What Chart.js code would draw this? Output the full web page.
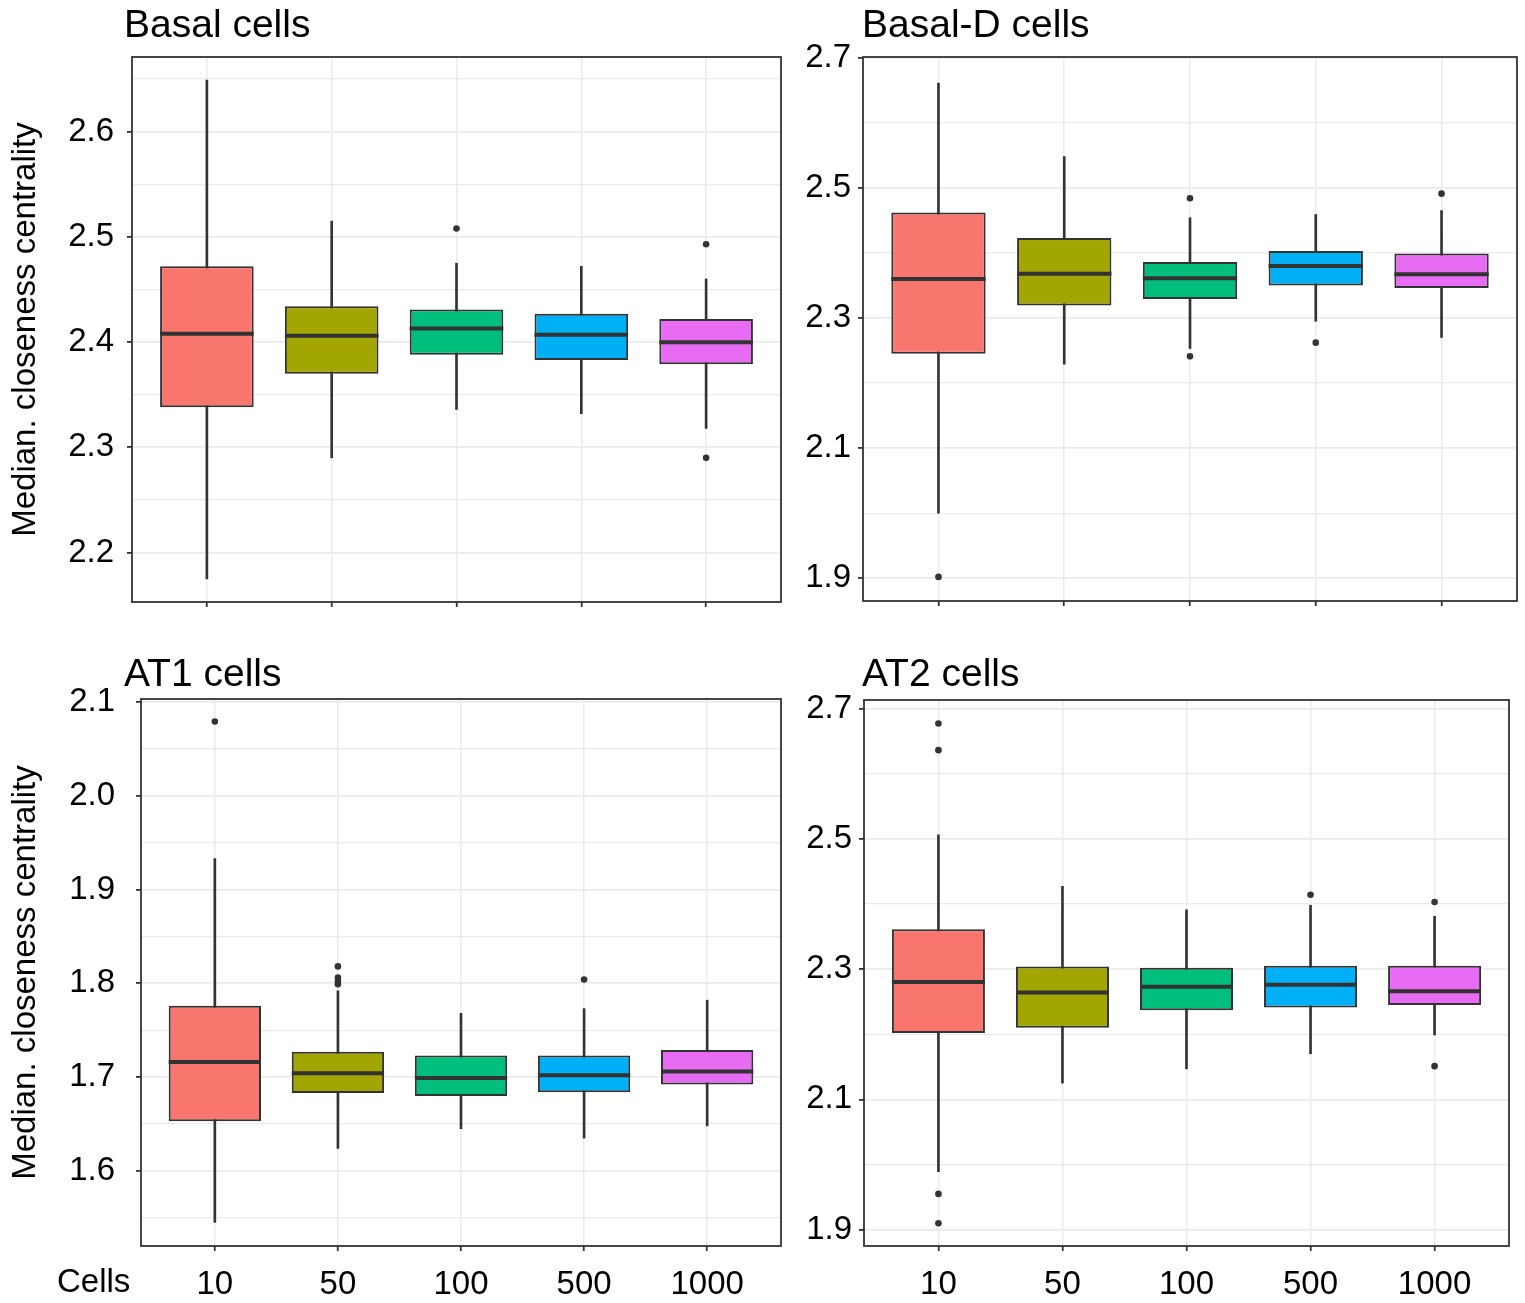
<!DOCTYPE html>
<html>
<head>
<meta charset="utf-8">
<script src="https://cdn.jsdelivr.net/npm/chart.js@4.4.1/dist/chart.umd.min.js"></script>
<style>
  body { margin: 0; background: #fff; }
  #wrap { position: relative; width: 1525px; height: 1303px; }
  canvas { position: absolute; }
</style>
</head>
<body>
<div id="wrap">
  <canvas id="basal" width="790" height="640" style="left:0px;top:0px"></canvas>
  <canvas id="basalD" width="735" height="640" style="left:790px;top:0px"></canvas>
  <canvas id="at1" width="790" height="663" style="left:0px;top:640px"></canvas>
  <canvas id="at2" width="735" height="663" style="left:790px;top:640px"></canvas>
</div>
<script>
const FONT = '"Liberation Sans", Arial, Helvetica, sans-serif';
Chart.defaults.font.family = FONT;

const cells = ["10", "50", "100", "500", "1000"];
const boxColors = ["#F8766D", "#A3A500", "#00BF7D", "#00B0F6", "#E76BF3"];
const yTitle = "Median. closeness centrality";

// Basal cells
const basalLow = [2.175, 2.290, 2.336, 2.332, 2.318];
const basalQ1 = [2.338, 2.370, 2.388, 2.383, 2.379];
const basalMed = [2.408, 2.406, 2.413, 2.407, 2.400];
const basalQ3 = [2.472, 2.434, 2.431, 2.427, 2.422];
const basalHigh = [2.649, 2.515, 2.475, 2.472, 2.460];
const basalOut = [[], [], [2.508], [], [2.493, 2.290]];
const basalTicks = [2.2, 2.3, 2.4, 2.5, 2.6];
const basalMinor = [2.25, 2.35, 2.45, 2.55, 2.65];

// Basal-D cells
const basalDLow = [2.000, 2.229, 2.253, 2.295, 2.270];
const basalDQ1 = [2.245, 2.319, 2.329, 2.350, 2.346];
const basalDMed = [2.360, 2.368, 2.361, 2.380, 2.367];
const basalDQ3 = [2.462, 2.423, 2.386, 2.403, 2.399];
const basalDHigh = [2.661, 2.548, 2.454, 2.459, 2.465];
const basalDOut = [[1.902], [], [2.484, 2.241], [2.262], [2.491]];
const basalDTicks = [1.9, 2.1, 2.3, 2.5, 2.7];
const basalDMinor = [2.0, 2.2, 2.4, 2.6];

// AT1 cells
const at1Low = [1.545, 1.624, 1.645, 1.635, 1.648];
const at1Q1 = [1.653, 1.683, 1.680, 1.684, 1.692];
const at1Med = [1.716, 1.704, 1.699, 1.702, 1.706];
const at1Q3 = [1.776, 1.727, 1.723, 1.723, 1.729];
const at1High = [1.933, 1.792, 1.768, 1.773, 1.782];
const at1Out = [[2.079], [1.818, 1.806, 1.802, 1.799], [], [1.804], []];
const at1Ticks = [1.6, 1.7, 1.8, 1.9, 2.0, 2.1];
const at1Minor = [1.55, 1.65, 1.75, 1.85, 1.95, 2.05];

// AT2 cells
const at2Low = [1.989, 2.125, 2.147, 2.170, 2.199];
const at2Q1 = [2.202, 2.210, 2.237, 2.241, 2.245];
const at2Med = [2.280, 2.264, 2.273, 2.276, 2.266];
const at2Q3 = [2.361, 2.304, 2.302, 2.305, 2.305];
const at2High = [2.506, 2.427, 2.391, 2.398, 2.381];
const at2Out = [[2.677, 2.636, 1.955, 1.910], [], [], [2.414], [2.403, 2.151]];
const at2Ticks = [1.9, 2.1, 2.3, 2.5, 2.7];
const at2Minor = [2.0, 2.2, 2.4, 2.6];

function makePanel(id, p) {
  const canvas = document.getElementById(id);
  const W = canvas.width, H = canvas.height;
  const pos = cells.map((c, i) => i + 1);
  const allTicks = p.major.concat(p.minor).sort((a, b) => a - b);
  const outPts = [];
  p.out.forEach((list, i) => list.forEach(v => outPts.push({ x: i + 1, y: v })));

  // half the box width (0.75 of a category) in pixels, for the median line
  const halfBox = ctx => {
    const xs = ctx.chart.scales.x;
    return Math.abs(xs.getPixelForValue(0.375) - xs.getPixelForValue(0));
  };

  const panelText = {
    id: "panelText",
    afterDraw(chart) {
      const ctx = chart.ctx;
      ctx.save();
      ctx.fillStyle = "#000";
      ctx.textBaseline = "alphabetic";
      p.texts.forEach(t => {
        ctx.font = t.size + "px " + FONT;
        ctx.fillText(t.text, t.x, t.y);
      });
      ctx.restore();
    }
  };
  const panelBorder = {
    id: "panelBorder",
    afterDatasetsDraw(chart) {
      const { ctx, chartArea: a } = chart;
      ctx.save();
      ctx.strokeStyle = "#333333";
      ctx.lineWidth = 1.8;
      ctx.strokeRect(a.left, a.top, a.right - a.left, a.bottom - a.top);
      ctx.restore();
    }
  };

  new Chart(canvas, {
    type: "bar",
    data: {
      datasets: [
        {
          label: "whisker",
          data: pos.map((x, i) => ({ x: x, y: [p.low[i], p.high[i]] })),
          backgroundColor: "#333333",
          barThickness: 2,
          grouped: false,
          order: 4
        },
        {
          label: "box",
          data: pos.map((x, i) => ({ x: x, y: [p.q1[i], p.q3[i]] })),
          backgroundColor: boxColors,
          borderColor: "#333333",
          borderWidth: 2,
          borderSkipped: false,
          grouped: false,
          categoryPercentage: 1,
          barPercentage: 0.75,
          order: 3
        },
        {
          type: "line",
          label: "median",
          data: pos.map((x, i) => ({ x: x, y: p.med[i] })),
          showLine: false,
          pointStyle: "line",
          pointRadius: halfBox,
          pointHoverRadius: halfBox,
          pointBorderColor: "#333333",
          pointBorderWidth: 4,
          order: 2
        },
        {
          type: "line",
          label: "outliers",
          data: outPts,
          showLine: false,
          pointRadius: 3.3,
          pointBackgroundColor: "#333333",
          pointBorderWidth: 0,
          order: 1
        }
      ]
    },
    options: {
      responsive: false,
      animation: false,
      devicePixelRatio: 1,
      layout: { padding: { left: 0, top: p.area.t, right: W - p.area.r, bottom: 0 } },
      plugins: { legend: { display: false }, tooltip: { enabled: false } },
      scales: {
        x: {
          type: "linear",
          min: 0.4,
          max: 5.6,
          offset: false,
          afterBuildTicks: s => { s.ticks = pos.map(v => ({ value: v })); },
          afterFit: s => { s.height = H - p.area.b; },
          border: { display: false },
          grid: {
            offset: false,
            color: "#EBEBEB",
            lineWidth: 1.5,
            tickLength: 5,
            tickColor: "#333333",
            tickWidth: 1.8
          },
          ticks: {
            display: p.showX,
            autoSkip: false,
            maxRotation: 0,
            padding: 14,
            color: "#000",
            font: { size: 33 },
            callback: v => cells[Math.round(v) - 1]
          }
        },
        y: {
          type: "linear",
          min: p.yMin,
          max: p.yMax,
          afterBuildTicks: s => {
            s.ticks = allTicks.map(v => ({ value: v, minor: p.minor.indexOf(v) >= 0 }));
          },
          afterFit: s => { s.width = p.area.l; },
          border: { display: false },
          grid: {
            color: "#EBEBEB",
            lineWidth: ctx => (ctx.tick && ctx.tick.minor ? 1.3 : 1.8),
            tickLength: 5,
            tickColor: ctx => (ctx.tick && ctx.tick.minor ? "rgba(0,0,0,0)" : "#333333"),
            tickWidth: 1.8
          },
          ticks: {
            autoSkip: false,
            padding: p.tickPad,
            color: "#000",
            font: { size: 33 },
            callback: (v, i, ticks) => (ticks[i].minor ? "" : v.toFixed(1))
          },
          title: {
            display: p.showY,
            text: yTitle,
            color: "#000",
            font: { size: 33 },
            padding: { top: 6, bottom: 0 }
          }
        }
      }
    },
    plugins: [panelBorder, panelText]
  });
}

makePanel("basal", {
  low: basalLow, q1: basalQ1, med: basalMed, q3: basalQ3, high: basalHigh, out: basalOut,
  major: basalTicks, minor: basalMinor, yMin: 2.153, yMax: 2.671,
  area: { l: 132, t: 57, r: 781, b: 602 }, tickPad: 13, showX: false, showY: true,
  texts: [{ text: "Basal cells", x: 124, y: 37, size: 39 }]
});
makePanel("basalD", {
  low: basalDLow, q1: basalDQ1, med: basalDMed, q3: basalDQ3, high: basalDHigh, out: basalDOut,
  major: basalDTicks, minor: basalDMinor, yMin: 1.865, yMax: 2.701,
  area: { l: 73, t: 57, r: 727, b: 601 }, tickPad: 7, showX: false, showY: false,
  texts: [{ text: "Basal-D cells", x: 72, y: 37, size: 39 }]
});
makePanel("at1", {
  low: at1Low, q1: at1Q1, med: at1Med, q3: at1Q3, high: at1High, out: at1Out,
  major: at1Ticks, minor: at1Minor, yMin: 1.520, yMax: 2.103,
  area: { l: 141, t: 59, r: 781, b: 606 }, tickPad: 21, showX: true, showY: true,
  texts: [{ text: "AT1 cells", x: 124, y: 46, size: 39 }, { text: "Cells", x: 57, y: 652, size: 33 }]
});
makePanel("at2", {
  low: at2Low, q1: at2Q1, med: at2Med, q3: at2Q3, high: at2High, out: at2Out,
  major: at2Ticks, minor: at2Minor, yMin: 1.875, yMax: 2.713,
  area: { l: 74, t: 60, r: 719, b: 606 }, tickPad: 7, showX: true, showY: false,
  texts: [{ text: "AT2 cells", x: 72, y: 46, size: 39 }]
});
</script>
</body>
</html>
